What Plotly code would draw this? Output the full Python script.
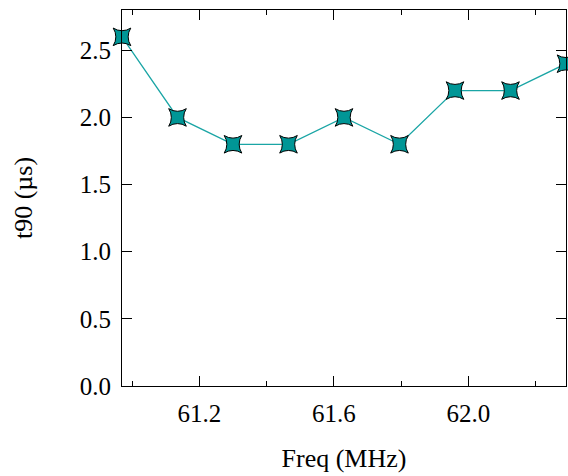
import plotly.graph_objects as go

freq = [60.97, 61.135, 61.30, 61.465, 61.63, 61.795, 61.96, 62.125, 62.29]
t90 = [2.6, 2.0, 1.8, 1.8, 2.0, 1.8, 2.2, 2.2, 2.4]
x_ticks = [61.2, 61.6, 62.0]
x_minor = [61.0, 61.4, 61.8, 62.2]
y_ticks = [0.0, 0.5, 1.0, 1.5, 2.0, 2.5]

fig = go.Figure()
fig.add_trace(go.Scatter(
    x=freq, y=t90, mode="lines+markers",
    line=dict(color="#1aa5a5", width=1.3),
    marker=dict(symbol="star-square", size=16, color="#009696",
                line=dict(color="#000000", width=1)),
    cliponaxis=False, showlegend=False,
))

font = dict(family="Liberation Serif", size=25, color="#000")
fig.update_layout(
    width=568, height=476,
    margin=dict(l=122, r=2, t=10, b=90),
    paper_bgcolor="white", plot_bgcolor="white",
    font=font,
)
fig.update_xaxes(
    range=[60.97, 62.29], tickvals=x_ticks, ticktext=["61.2", "61.6", "62.0"],
    ticks="inside", ticklen=10, tickwidth=1, tickcolor="#000",
    minor=dict(tickvals=x_minor, ticks="inside", ticklen=5, tickcolor="#000", tickwidth=1, showgrid=False),
    showline=True, linecolor="#000", linewidth=1.2, mirror="allticks",
    showgrid=False, zeroline=False, ticklabelstandoff=5,
    title=dict(text="Freq (MHz)", standoff=22, font=dict(family="Liberation Serif", size=26)),
)
fig.update_yaxes(
    range=[0, 2.8], tickvals=y_ticks, ticktext=["0.0", "0.5", "1.0", "1.5", "2.0", "2.5"],
    ticks="inside", ticklen=10, tickwidth=1, tickcolor="#000",
    showline=True, linecolor="#000", linewidth=1.2, mirror="allticks",
    showgrid=False, zeroline=False, ticklabelstandoff=5,
    title=dict(text="t90 (µs)", standoff=39, font=dict(family="Liberation Serif", size=26)),
)
fig.write_html("out.html")
